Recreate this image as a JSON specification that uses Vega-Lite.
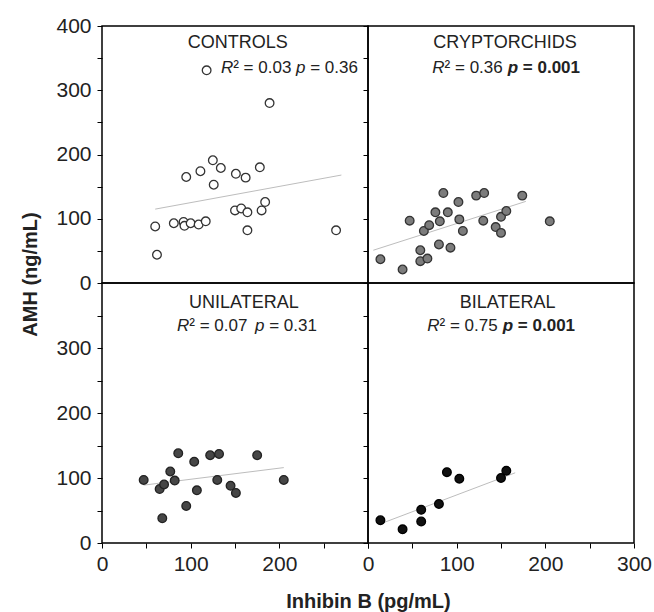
{
  "$schema": "https://vega.github.io/schema/vega-lite/v6.json",
  "background": "white",
  "padding": {"left": 19, "top": 14, "right": 3, "bottom": 3},
  "config": {
    "view": {"stroke": "#000", "strokeWidth": 1.5},
    "axis": {"domain": false, "grid": false, "tickColor": "#000", "tickSize": 5, "tickWidth": 1, "labelFlush": false,
      "labelFont": "Liberation Sans", "labelFontSize": 21, "labelColor": "#222",
      "titleFont": "Liberation Sans", "titleFontSize": 20, "titleFontWeight": "bold", "titleColor": "#222"},
    "text": {"font": "Liberation Sans", "color": "#222", "baseline": "middle"}
  },
  "datasets": {
    "controls": [
      {"inhibin": 118, "amh": 331}, {"inhibin": 189, "amh": 280}, {"inhibin": 125, "amh": 191},
      {"inhibin": 95, "amh": 165}, {"inhibin": 111, "amh": 174}, {"inhibin": 134, "amh": 179},
      {"inhibin": 151, "amh": 170}, {"inhibin": 162, "amh": 164}, {"inhibin": 178, "amh": 180},
      {"inhibin": 126, "amh": 153}, {"inhibin": 150, "amh": 113}, {"inhibin": 157, "amh": 116},
      {"inhibin": 164, "amh": 110}, {"inhibin": 180, "amh": 113}, {"inhibin": 184, "amh": 126},
      {"inhibin": 164, "amh": 82}, {"inhibin": 264, "amh": 82}, {"inhibin": 60, "amh": 88},
      {"inhibin": 62, "amh": 44}, {"inhibin": 81, "amh": 93}, {"inhibin": 92, "amh": 95},
      {"inhibin": 93, "amh": 89}, {"inhibin": 100, "amh": 93}, {"inhibin": 109, "amh": 91},
      {"inhibin": 117, "amh": 96}
    ],
    "crypt": [
      {"inhibin": 14, "amh": 37}, {"inhibin": 39, "amh": 21}, {"inhibin": 59, "amh": 51},
      {"inhibin": 59, "amh": 34}, {"inhibin": 67, "amh": 38}, {"inhibin": 80, "amh": 60},
      {"inhibin": 93, "amh": 55}, {"inhibin": 47, "amh": 97}, {"inhibin": 63, "amh": 81},
      {"inhibin": 69, "amh": 90}, {"inhibin": 76, "amh": 110}, {"inhibin": 81, "amh": 96},
      {"inhibin": 90, "amh": 110}, {"inhibin": 85, "amh": 140}, {"inhibin": 102, "amh": 126},
      {"inhibin": 103, "amh": 99}, {"inhibin": 107, "amh": 81}, {"inhibin": 122, "amh": 136},
      {"inhibin": 131, "amh": 140}, {"inhibin": 130, "amh": 97}, {"inhibin": 144, "amh": 87},
      {"inhibin": 150, "amh": 103}, {"inhibin": 156, "amh": 112}, {"inhibin": 150, "amh": 78},
      {"inhibin": 174, "amh": 136}, {"inhibin": 205, "amh": 96}
    ],
    "uni": [
      {"inhibin": 47, "amh": 97}, {"inhibin": 65, "amh": 83}, {"inhibin": 70, "amh": 90},
      {"inhibin": 68, "amh": 38}, {"inhibin": 77, "amh": 110}, {"inhibin": 82, "amh": 96},
      {"inhibin": 86, "amh": 138}, {"inhibin": 95, "amh": 57}, {"inhibin": 104, "amh": 125},
      {"inhibin": 107, "amh": 81}, {"inhibin": 122, "amh": 135}, {"inhibin": 132, "amh": 137},
      {"inhibin": 130, "amh": 97}, {"inhibin": 145, "amh": 88}, {"inhibin": 151, "amh": 77},
      {"inhibin": 175, "amh": 135}, {"inhibin": 205, "amh": 97}
    ],
    "bi": [
      {"inhibin": 14, "amh": 35}, {"inhibin": 39, "amh": 21}, {"inhibin": 60, "amh": 33},
      {"inhibin": 60, "amh": 51}, {"inhibin": 80, "amh": 60}, {"inhibin": 89, "amh": 109},
      {"inhibin": 103, "amh": 99}, {"inhibin": 150, "amh": 100}, {"inhibin": 156, "amh": 111}
    ],
    "controls_fit": [{"inhibin": 60, "amh": 115}, {"inhibin": 270, "amh": 168}],
    "crypt_fit": [{"inhibin": 6, "amh": 51}, {"inhibin": 178, "amh": 127}],
    "uni_fit": [{"inhibin": 47, "amh": 89}, {"inhibin": 205, "amh": 116}],
    "bi_fit": [{"inhibin": 15, "amh": 30}, {"inhibin": 166, "amh": 108}],
    "controls_txt": [
      {"role": "title", "inhibin": 153, "amh": 373, "t": "CONTROLS"},
      {"role": "R", "inhibin": 134.2, "amh": 335, "t": "R"},
      {"role": "stat", "inhibin": 148, "amh": 335, "t": "² = 0.03"},
      {"role": "p", "inhibin": 218.8, "amh": 335, "t": "p"},
      {"role": "pval", "inhibin": 234.8, "amh": 335, "t": "= 0.36"}
    ],
    "crypt_txt": [
      {"role": "title", "inhibin": 154.5, "amh": 373, "t": "CRYPTORCHIDS"},
      {"role": "R", "inhibin": 72.5, "amh": 335, "t": "R"},
      {"role": "stat", "inhibin": 86.4, "amh": 335, "t": "² = 0.36"},
      {"role": "p", "inhibin": 157.5, "amh": 335, "t": "p"},
      {"role": "pval", "inhibin": 174.6, "amh": 335, "t": "= 0.001"}
    ],
    "uni_txt": [
      {"role": "title", "inhibin": 160, "amh": 369, "t": "UNILATERAL"},
      {"role": "R", "inhibin": 84.6, "amh": 334, "t": "R"},
      {"role": "stat", "inhibin": 98.4, "amh": 334, "t": "² = 0.07"},
      {"role": "p", "inhibin": 172.5, "amh": 334, "t": "p"},
      {"role": "pval", "inhibin": 188.5, "amh": 334, "t": "= 0.31"}
    ],
    "bi_txt": [
      {"role": "title", "inhibin": 157.4, "amh": 369, "t": "BILATERAL"},
      {"role": "R", "inhibin": 66.8, "amh": 334, "t": "R"},
      {"role": "stat", "inhibin": 80.7, "amh": 334, "t": "² = 0.75"},
      {"role": "p", "inhibin": 151.9, "amh": 334, "t": "p"},
      {"role": "pval", "inhibin": 169, "amh": 334, "t": "= 0.001"}
    ]
  },
  "concat": [
    {
      "width": 266, "height": 257,
      "encoding": {
        "x": {"field": "inhibin", "type": "quantitative", "scale": {"domain": [0, 300], "nice": false}, "axis": null},
        "y": {"field": "amh", "type": "quantitative", "scale": {"domain": [0, 400], "nice": false},
          "axis": {"values": [0, 50, 100, 150, 200, 250, 300, 350, 400], "labelExpr": "datum.value % 100 === 0 ? datum.label : ''",
            "labelPadding": 6, "title": "AMH (ng/mL)", "titleX": -72, "titleY": 248, "titleAngle": 270, "titleAlign": "center", "titleBaseline": "middle"}}
      },
      "layer": [
        {"data": {"name": "controls_fit"}, "mark": {"type": "line", "color": "#bdbdbd", "strokeWidth": 1}},
        {"data": {"name": "controls"}, "mark": {"type": "circle", "size": 75, "opacity": 1, "fill": "#ffffff", "stroke": "#333", "strokeWidth": 1.3}},
        {"data": {"name": "controls_txt"}, "transform": [{"filter": "datum.role === 'title'"}], "mark": {"type": "text", "fontSize": 18, "align": "center"}, "encoding": {"text": {"field": "t"}}},
        {"data": {"name": "controls_txt"}, "transform": [{"filter": "datum.role === 'R' || datum.role === 'p'"}], "mark": {"type": "text", "fontSize": 17, "fontStyle": "italic", "align": "left"}, "encoding": {"text": {"field": "t"}}},
        {"data": {"name": "controls_txt"}, "transform": [{"filter": "datum.role === 'stat' || datum.role === 'pval'"}], "mark": {"type": "text", "fontSize": 17, "align": "left"}, "encoding": {"text": {"field": "t"}}}
      ]
    },
    {
      "width": 266, "height": 257,
      "encoding": {
        "x": {"field": "inhibin", "type": "quantitative", "scale": {"domain": [0, 300], "nice": false}, "axis": null},
        "y": {"field": "amh", "type": "quantitative", "scale": {"domain": [0, 400], "nice": false},
          "axis": {"values": [0, 50, 100, 150, 200, 250, 300, 350, 400], "labels": false, "title": null}}
      },
      "layer": [
        {"data": {"name": "crypt_fit"}, "mark": {"type": "line", "color": "#bdbdbd", "strokeWidth": 1}},
        {"data": {"name": "crypt"}, "mark": {"type": "circle", "size": 75, "opacity": 1, "fill": "#7c7c7c", "stroke": "#333", "strokeWidth": 1.3}},
        {"data": {"name": "crypt_txt"}, "transform": [{"filter": "datum.role === 'title'"}], "mark": {"type": "text", "fontSize": 18, "align": "center"}, "encoding": {"text": {"field": "t"}}},
        {"data": {"name": "crypt_txt"}, "transform": [{"filter": "datum.role === 'R'"}], "mark": {"type": "text", "fontSize": 17, "fontStyle": "italic", "align": "left"}, "encoding": {"text": {"field": "t"}}},
        {"data": {"name": "crypt_txt"}, "transform": [{"filter": "datum.role === 'stat'"}], "mark": {"type": "text", "fontSize": 17, "align": "left"}, "encoding": {"text": {"field": "t"}}},
        {"data": {"name": "crypt_txt"}, "transform": [{"filter": "datum.role === 'p'"}], "mark": {"type": "text", "fontSize": 17, "fontStyle": "italic", "fontWeight": "bold", "align": "left"}, "encoding": {"text": {"field": "t"}}},
        {"data": {"name": "crypt_txt"}, "transform": [{"filter": "datum.role === 'pval'"}], "mark": {"type": "text", "fontSize": 17, "fontWeight": "bold", "align": "left"}, "encoding": {"text": {"field": "t"}}}
      ]
    },
    {
      "width": 266, "height": 260,
      "encoding": {
        "x": {"field": "inhibin", "type": "quantitative", "scale": {"domain": [0, 300], "nice": false},
          "axis": {"values": [0, 50, 100, 150, 200, 250, 300], "labelExpr": "datum.value % 100 === 0 && datum.value < 300 ? datum.label : ''",
            "labelPadding": 5, "title": "Inhibin B (pg/mL)", "titleX": 266, "titleY": 58, "titleAlign": "center", "titleBaseline": "middle"}},
        "y": {"field": "amh", "type": "quantitative", "scale": {"domain": [0, 400], "nice": false},
          "axis": {"values": [0, 50, 100, 150, 200, 250, 300, 350], "labelExpr": "datum.value % 100 === 0 ? datum.label : ''", "labelPadding": 6, "title": null}}
      },
      "layer": [
        {"data": {"name": "uni_fit"}, "mark": {"type": "line", "color": "#bdbdbd", "strokeWidth": 1}},
        {"data": {"name": "uni"}, "mark": {"type": "circle", "size": 75, "opacity": 1, "fill": "#464646", "stroke": "#222", "strokeWidth": 1.3}},
        {"data": {"name": "uni_txt"}, "transform": [{"filter": "datum.role === 'title'"}], "mark": {"type": "text", "fontSize": 18, "align": "center"}, "encoding": {"text": {"field": "t"}}},
        {"data": {"name": "uni_txt"}, "transform": [{"filter": "datum.role === 'R' || datum.role === 'p'"}], "mark": {"type": "text", "fontSize": 17, "fontStyle": "italic", "align": "left"}, "encoding": {"text": {"field": "t"}}},
        {"data": {"name": "uni_txt"}, "transform": [{"filter": "datum.role === 'stat' || datum.role === 'pval'"}], "mark": {"type": "text", "fontSize": 17, "align": "left"}, "encoding": {"text": {"field": "t"}}}
      ]
    },
    {
      "width": 266, "height": 260,
      "encoding": {
        "x": {"field": "inhibin", "type": "quantitative", "scale": {"domain": [0, 300], "nice": false},
          "axis": {"values": [0, 50, 100, 150, 200, 250, 300], "labelExpr": "datum.value % 100 === 0 ? datum.label : ''", "labelPadding": 5, "title": null}},
        "y": {"field": "amh", "type": "quantitative", "scale": {"domain": [0, 400], "nice": false},
          "axis": {"values": [0, 50, 100, 150, 200, 250, 300, 350], "labels": false, "title": null}}
      },
      "layer": [
        {"data": {"name": "bi_fit"}, "mark": {"type": "line", "color": "#bdbdbd", "strokeWidth": 1}},
        {"data": {"name": "bi"}, "mark": {"type": "circle", "size": 75, "opacity": 1, "fill": "#111", "stroke": "#000", "strokeWidth": 1.3}},
        {"data": {"name": "bi_txt"}, "transform": [{"filter": "datum.role === 'title'"}], "mark": {"type": "text", "fontSize": 18, "align": "center"}, "encoding": {"text": {"field": "t"}}},
        {"data": {"name": "bi_txt"}, "transform": [{"filter": "datum.role === 'R'"}], "mark": {"type": "text", "fontSize": 17, "fontStyle": "italic", "align": "left"}, "encoding": {"text": {"field": "t"}}},
        {"data": {"name": "bi_txt"}, "transform": [{"filter": "datum.role === 'stat'"}], "mark": {"type": "text", "fontSize": 17, "align": "left"}, "encoding": {"text": {"field": "t"}}},
        {"data": {"name": "bi_txt"}, "transform": [{"filter": "datum.role === 'p'"}], "mark": {"type": "text", "fontSize": 17, "fontStyle": "italic", "fontWeight": "bold", "align": "left"}, "encoding": {"text": {"field": "t"}}},
        {"data": {"name": "bi_txt"}, "transform": [{"filter": "datum.role === 'pval'"}], "mark": {"type": "text", "fontSize": 17, "fontWeight": "bold", "align": "left"}, "encoding": {"text": {"field": "t"}}}
      ]
    }
  ],
  "columns": 2,
  "spacing": 0,
  "bounds": "flush"
}
